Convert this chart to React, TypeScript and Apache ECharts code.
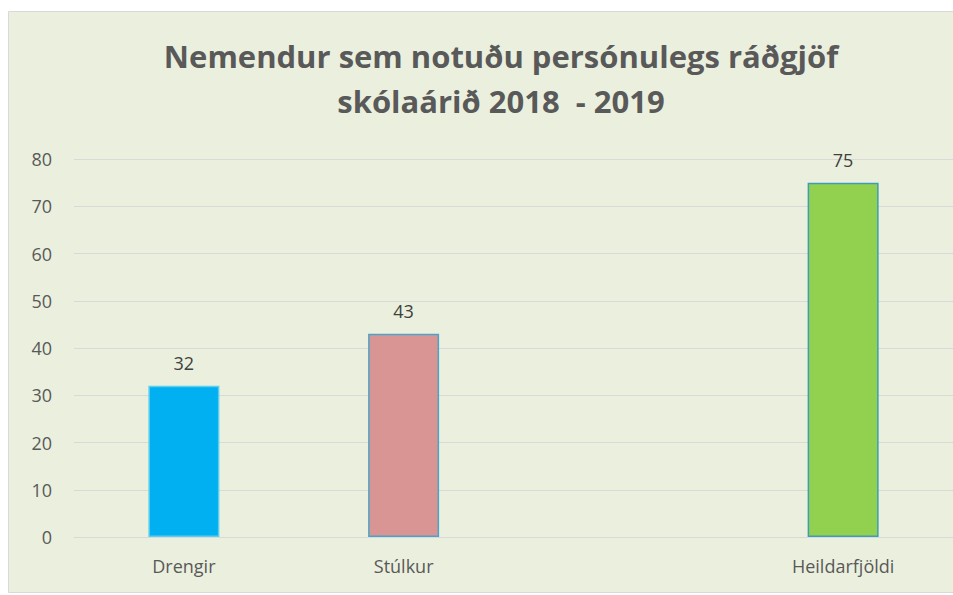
import React, { useEffect, useRef } from "react";
import * as echarts from "echarts";

const categories = ["Drengir", "Stúlkur", "", "Heildarfjöldi"];
const values = [32, 43, null, 75];
const barColors = ["#00B0F0", "#D99594", "#FFFFFF", "#92D050"];
const borderColors = ["#5CCDF0", "#4BA3C8", "#4BA3C8", "#3E9DB5"];
const yTicks = { min: 0, max: 80, interval: 10 };
const titleLines = ["Nemendur sem notuðu persónulegs ráðgjöf", "skólaárið 2018  - 2019"];

export default function App() {
  const ref = useRef<HTMLDivElement>(null);
  useEffect(() => {
    document.body.style.margin = "0";
    const chart = echarts.init(ref.current!, null, { renderer: "svg" });
    const font = "'Open Sans', sans-serif";
    chart.setOption({
      animation: false,
      backgroundColor: "#FFFFFF",
      graphic: [
        {
          type: "rect",
          z: -10,
          shape: { x: 8.5, y: 11.5, width: 960, height: 581 },
          style: { fill: "#EBF0DE", stroke: "#D9D9D9", lineWidth: 1 },
          silent: true,
        },
        {
          type: "text",
          x: 501,
          y: 56,
          style: {
            text: titleLines[0],
            fill: "#595959",
            font: `bold 31px ${font}`,
            textAlign: "center",
            textVerticalAlign: "middle",
          },
        },
        {
          type: "text",
          x: 501,
          y: 101,
          style: {
            text: titleLines[1],
            fill: "#595959",
            font: `bold 31px ${font}`,
            textAlign: "center",
            textVerticalAlign: "middle",
          },
        },
      ],
      grid: { left: 74, right: -8, top: 159, bottom: 58 },
      xAxis: {
        type: "category",
        data: categories,
        axisLine: { lineStyle: { color: "#D9D9D9", width: 1 } },
        axisTick: { show: false },
        axisLabel: { color: "#595959", fontSize: 18, fontFamily: font, margin: 20, interval: 0 },
      },
      yAxis: {
        type: "value",
        min: yTicks.min,
        max: yTicks.max,
        interval: yTicks.interval,
        axisLine: { show: false },
        axisTick: { show: false },
        splitLine: { lineStyle: { color: "#D9D9D9", width: 1 } },
        axisLabel: { color: "#595959", fontSize: 18, fontFamily: font, margin: 22 },
      },
      series: [
        {
          type: "bar",
          barWidth: 71,
          data: values.map((v, i) => ({
            value: v,
            itemStyle: { color: barColors[i], borderColor: borderColors[i], borderWidth: 1.5 },
          })),
          label: {
            show: true,
            position: "top",
            distance: 14,
            color: "#404040",
            fontSize: 18,
            fontFamily: font,
          },
        },
      ],
    });
    return () => chart.dispose();
  }, []);
  return <div ref={ref} style={{ width: 953, height: 595 }} />;
}
